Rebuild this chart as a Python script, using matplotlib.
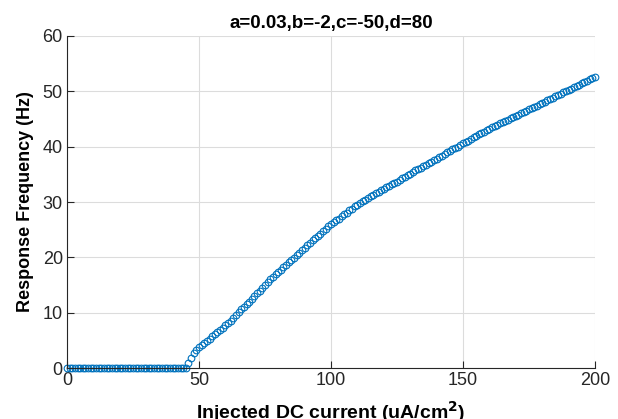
import matplotlib
matplotlib.use("Agg")
import matplotlib.pyplot as plt
import numpy as np

plt.rcParams['font.family'] = ['Liberation Sans', 'DejaVu Sans']

# injected current (uA/cm^2), one sample per unit
current = np.arange(0, 201)

# response frequency (Hz)
freq_below = [0.0] * 46
freq_above = [
    0.9, 1.8, 2.7, 3.3, 3.8,                                   # 46-50
    4.2, 4.6, 4.9, 5.3, 5.7, 6.1, 6.5, 6.9, 7.3, 7.7,          # 51-60
    8.1, 8.5, 9.0, 9.6, 10.2, 10.7, 11.1, 11.5, 12.0, 12.5,    # 61-70
    13.0, 13.5, 14.0, 14.5, 15.0, 15.5, 16.0, 16.5, 16.9, 17.3,  # 71-80
    17.8, 18.2, 18.7, 19.1, 19.5, 19.9, 20.4, 20.8, 21.3, 21.7,  # 81-90
    22.2, 22.6, 23.1, 23.5, 23.9, 24.3, 24.8, 25.2, 25.6, 26.0,  # 91-100
    26.3, 26.7, 27.0, 27.4, 27.8, 28.1, 28.5, 28.8, 29.2, 29.5,  # 101-110
    29.8, 30.1, 30.4, 30.7, 31.0, 31.3, 31.6, 31.8, 32.1, 32.4,  # 111-120
    32.7, 32.9, 33.2, 33.5, 33.7, 34.0, 34.3, 34.6, 34.8, 35.1,  # 121-130
    35.4, 35.7, 35.9, 36.2, 36.5, 36.7, 37.0, 37.3, 37.6, 37.8,  # 131-140
    38.1, 38.4, 38.7, 39.0, 39.2, 39.5, 39.8, 40.0, 40.3, 40.6,  # 141-150
    40.9, 41.1, 41.4, 41.7, 41.9, 42.2, 42.5, 42.7, 43.0, 43.2,  # 151-160
    43.5, 43.8, 44.0, 44.3, 44.5, 44.7, 44.9, 45.2, 45.4, 45.6,  # 161-170
    45.8, 46.1, 46.3, 46.5, 46.8, 47.0, 47.2, 47.4, 47.7, 47.9,  # 171-180
    48.1, 48.4, 48.6, 48.8, 49.1, 49.3, 49.5, 49.8, 50.0, 50.3,  # 181-190
    50.5, 50.8, 51.0, 51.2, 51.5, 51.7, 51.9, 52.2, 52.4, 52.6,  # 191-200
]
freq = np.array(freq_below + freq_above)

xticks = [0, 50, 100, 150, 200]
yticks = [0, 10, 20, 30, 40, 50, 60]

fig = plt.figure(figsize=(6.18, 4.19), dpi=100)
ax = fig.add_axes([67 / 618, 1 - 368 / 419, 528 / 618, 332 / 419])

ax.plot(current, freq, 'o', mfc='none', mec='#0072BD', ms=4.8, mew=0.8, clip_on=False)

ax.set_xlim(0, 200)
ax.set_ylim(0, 60)
ax.set_xticks(xticks)
ax.set_yticks(yticks)
ax.grid(True, color='#dcdcdc', linewidth=0.8)
ax.set_axisbelow(True)

for s in ['top', 'right']:
    ax.spines[s].set_visible(False)
for s in ['left', 'bottom']:
    ax.spines[s].set_color('#262626')
    ax.spines[s].set_linewidth(0.8)
ax.tick_params(direction='in', length=5, width=0.8, colors='#262626', labelsize=13, pad=3)

ax.set_title('a=0.03,b=-2,c=-50,d=80', fontsize=13.5, fontweight='bold', pad=6)
ax.set_xlabel('Injected DC current (uA/cm$^\\mathbf{2}$)', fontsize=14, fontweight='bold', labelpad=7)
ax.set_ylabel('Response Frequency (Hz)', fontsize=13, fontweight='bold', labelpad=6)

fig.savefig('out.png', dpi=100)
